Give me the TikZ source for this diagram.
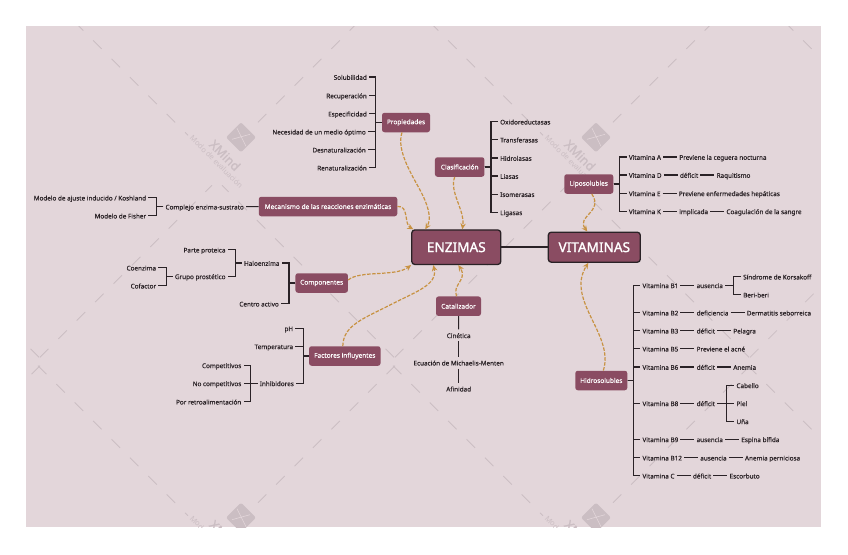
\documentclass[tikz,border=0pt]{standalone}
\usepackage{fontspec}
\setmainfont{Noto Sans}
\newfontfamily\leaffont{Noto Sans}[FakeBold=0.35]
\newfontfamily\hubfont{Noto Sans}[FakeBold=1.3]
\usetikzlibrary{arrows.meta,positioning}
\definecolor{mapBack}{RGB}{227, 214, 218}
\definecolor{mapRose}{RGB}{138, 76, 98}
\definecolor{mapInk}{RGB}{42, 34, 38}
\definecolor{mapGold}{RGB}{200, 146, 66}
\definecolor{mapMark}{RGB}{203, 190, 195}

\begin{document}
\begin{tikzpicture}[
  x=1pt,y=-1pt,
  hub/.style={
    draw=mapInk,
    line width=1.3pt,
    fill=mapRose,
    text=white,
    rounded corners=3pt,
    font=\fontsize{13.6}{16}\hubfont
  },
  topic/.style={
    fill=mapRose,
    text=white,
    rounded corners=2.5pt,
    minimum height=19.5pt,
    inner sep=0pt,
    font=\fontsize{6.5}{7}\leaffont
  },
  leaf/.style={
    text=mapInk,
    inner xsep=2pt,
    inner ysep=2.5pt,
    text height=6pt,
    text depth=.5pt,
    font=\fontsize{6.35}{7}\leaffont
  },
  branch/.style={line width=1.1pt,mapInk},
  relation/.style={-{Stealth[length=6pt,width=5.5pt]},line width=1.2pt,mapGold,dash pattern=on 3.5pt off 1.5pt},
  node distance=14pt
]
  \useasboundingbox (0,0) rectangle (848,554);
  \fill[mapBack] (26,26) rectangle (821,527.3);

  \begin{scope}
    \clip (26,26) rectangle (821,527.3);
    \foreach \k in {-1,0,1,2} \foreach \r in {0,1} {
      \begin{scope}[shift={(241+355*\k,137.3+380.4*\r)}]
        \draw[mapMark,line width=.8pt,dash pattern=on 12pt off 14pt]
          (-203,-152) -- (-53,-2)
          (154,-152) -- (17,-15)
          (-201,220) -- (-29,48)
          (153,220) -- (-19,48);
      \end{scope}
    }
    \foreach \k in {0,1} \foreach \r in {0,1} {
      \begin{scope}[shift={(241+355*\k,137.3+380.4*\r)}]
        \fill[mapMark,rotate=45,rounded corners=2pt] (-10.6,-10.6) rectangle (10.6,10.6);
        \draw[mapBack,line width=.6pt] (-9,2) -- (9,-3) (-4,-9) -- (5,9);
        \node[rotate=-45,text=mapMark,font=\fontsize{12.5}{14}\hubfont] (xmind\k\r) at (-16,18) {XMind};
        \node[rotate=-45,text=mapMark,font=\fontsize{7.5}{8}\selectfont] (modo\k\r) at (-24.5,24.5) {Modo de evaluación};
      \end{scope}
    }
  \end{scope}

  \node[hub,minimum width=89pt,minimum height=34.5pt] (enz) at (456.3,247.2) {ENZIMAS};
  \node[hub,minimum width=92pt,minimum height=30pt] (vit) at (594.3,247.2) {VITAMINAS};
  \draw[line width=1.5pt,mapInk] (enz) -- (vit);

  \node[topic,minimum width=48pt] (prop) at (406,122.5) {Propiedades};
  \node[topic,minimum width=49.5pt] (cla) at (459.7,167) {Clasificación};
  \node[topic,minimum width=138.5pt] (mec) at (328,206.5) {Mecanismo de las reacciones enzimáticas};
  \node[topic,minimum width=52.5pt] (com) at (321.7,283) {Componentes};
  \node[topic,minimum width=71.5pt] (fac) at (344.8,356) {Factores influyentes};
  \node[topic,minimum width=45pt] (cat) at (458.5,306.2) {Catalizador};
  \node[topic,minimum width=49pt] (lip) at (588.8,184) {Liposolubles};
  \node[topic,minimum width=52pt] (hid) at (601.3,380.5) {Hidrosolubles};

  \node[leaf,anchor=east] (sol) at (369,77) {Solubilidad};
  \node[leaf,anchor=east] (rec) at (369,95.5) {Recuperación};
  \node[leaf,anchor=east] (esp) at (369,113.7) {Especificidad};
  \node[leaf,anchor=east] (nec) at (368,131.7) {Necesidad de un medio óptimo};
  \node[leaf,anchor=east] (des) at (368,149.7) {Desnaturalización};
  \node[leaf,anchor=east] (ren) at (369,167.7) {Renaturalización};
  \foreach \kid in {sol,rec,esp,nec,des,ren}
    \draw[branch] (prop.west) -- ++(-6,0) |- (\kid.east);

  \node[leaf,anchor=west] (oxi) at (498,121.7) {Oxidoreductasas};
  \node[leaf,anchor=west] (tra) at (498,139.7) {Transferasas};
  \node[leaf,anchor=west] (hil) at (498,158) {Hidrolasas};
  \node[leaf,anchor=west] (lia) at (498,176) {Liasas};
  \node[leaf,anchor=west] (iso) at (498,194.2) {Isomerasas};
  \node[leaf,anchor=west] (lig) at (498,212.3) {Ligasas};
  \foreach \kid in {oxi,tra,hil,lia,iso,lig}
    \draw[branch] (cla.east) -- ++(6.3,0) |- (\kid.west);

  \node[leaf,anchor=east] (cpl) at (246,206.7) {Complejo enzima-sustrato};
  \node[leaf,anchor=east] (aju) at (148.3,197.7) {Modelo de ajuste inducido / Koshland};
  \node[leaf,anchor=east] (fis) at (148.3,215.7) {Modelo de Fisher};
  \draw[branch] (mec) -- (cpl);
  \foreach \kid in {aju,fis}
    \draw[branch] (cpl.west) -- ++(-7,0) |- (\kid.east);

  \node[leaf,anchor=east] (hal) at (281.7,263) {Haloenzima};
  \node[leaf,anchor=east] (cen) at (281,303.7) {Centro activo};
  \node[leaf,anchor=east] (par) at (227.7,249.7) {Parte proteica};
  \node[leaf,anchor=east] (gru) at (227.7,276.3) {Grupo prostético};
  \node[leaf,anchor=east] (coe) at (158.3,267.7) {Coenzima};
  \node[leaf,anchor=east] (cof) at (158.3,285.7) {Cofactor};
  \foreach \kid in {hal,cen}
    \draw[branch] (com.west) -- ++(-6.3,0) |- (\kid.east);
  \foreach \kid in {par,gru}
    \draw[branch] (hal.west) -- ++(-6.7,0) |- (\kid.east);
  \foreach \kid in {coe,cof}
    \draw[branch] (gru.west) -- ++(-6.4,0) |- (\kid.east);

  \node[leaf,anchor=east] (phv) at (295.3,328.3) {pH};
  \node[leaf,anchor=east] (tem) at (295.3,346.3) {Temperatura};
  \node[leaf,anchor=east] (inh) at (296,383.3) {Inhibidores};
  \node[leaf,anchor=east] (cpt) at (243.5,365.3) {Competitivos};
  \node[leaf,anchor=east] (noc) at (243.5,383.3) {No competitivos};
  \node[leaf,anchor=east] (por) at (243.5,401.7) {Por retroalimentación};
  \foreach \kid in {phv,tem,inh}
    \draw[branch] (fac.west) -- ++(-5.7,0) |- (\kid.east);
  \foreach \kid in {cpt,noc,por}
    \draw[branch] (inh.west) -- ++(-6.7,0) |- (\kid.east);

  \node[leaf] (cin) at (458.7,335.3) {Cinética};
  \node[leaf] (ecu) at (458.7,362.7) {Ecuación de Michaelis-Menten};
  \node[leaf] (afi) at (458.7,388.7) {Afinidad};
  \draw[branch] (cat) -- (cin);
  \draw[branch] (cin) -- (ecu);
  \draw[branch] (ecu) -- (afi);

  \node[leaf,anchor=west] (va) at (626.7,157) {Vitamina A};
  \node[leaf,anchor=west] (vd) at (626.7,175) {Vitamina D};
  \node[leaf,anchor=west] (ve) at (626.7,193.3) {Vitamina E};
  \node[leaf,anchor=west] (vk) at (626.7,211.3) {Vitamina K};
  \foreach \kid in {va,vd,ve,vk}
    \draw[branch] (lip.east) -- ++(6.4,0) |- (\kid.west);
  \node[leaf,right=of va] (vaa) {Previene la ceguera nocturna};
  \node[leaf,right=of vd] (vdd) {déficit};
  \node[leaf,right=of vdd] (vdr) {Raquitismo};
  \node[leaf,right=of ve] (vee) {Previene enfermedades hepáticas};
  \node[leaf,right=of vk] (vki) {implicada};
  \node[leaf,right=of vki] (vkc) {Coagulación de la sangre};
  \draw[branch] (va) -- (vaa);
  \draw[branch] (vd) -- (vdd);
  \draw[branch] (vdd) -- (vdr);
  \draw[branch] (ve) -- (vee);
  \draw[branch] (vk) -- (vki);
  \draw[branch] (vki) -- (vkc);

  \node[leaf,anchor=west] (bu) at (640.3,285.3) {Vitamina B1};
  \node[leaf,anchor=west] (bd) at (640.3,312.7) {Vitamina B2};
  \node[leaf,anchor=west] (bt) at (640.3,330.7) {Vitamina B3};
  \node[leaf,anchor=west] (bc) at (640.3,348.7) {Vitamina B5};
  \node[leaf,anchor=west] (bs) at (640.3,367) {Vitamina B6};
  \node[leaf,anchor=west] (bo) at (640.3,403.3) {Vitamina B8};
  \node[leaf,anchor=west] (bn) at (640.3,439.3) {Vitamina B9};
  \node[leaf,anchor=west] (bz) at (640.3,457.7) {Vitamina B12};
  \node[leaf,anchor=west] (vc) at (640.3,475.7) {Vitamina C};
  \foreach \kid in {bu,bd,bt,bc,bs,bo,bn,bz,vc}
    \draw[branch] (hid.east) -- ++(6,0) |- (\kid.west);

  \node[leaf,right=of bu] (bua) {ausencia};
  \node[leaf,anchor=west] (bus) at (741,276.7) {Síndrome de Korsakoff};
  \node[leaf,anchor=west] (bub) at (741,294.7) {Beri-beri};
  \draw[branch] (bu) -- (bua);
  \foreach \kid in {bus,bub}
    \draw[branch] (bua.east) -- ++(8,0) |- (\kid.west);
  \node[leaf,right=of bd] (bdd) {deficiencia};
  \node[leaf,right=of bdd] (bdm) {Dermatitis seborreica};
  \draw[branch] (bd) -- (bdd);
  \draw[branch] (bdd) -- (bdm);
  \node[leaf,right=of bt] (btd) {déficit};
  \node[leaf,right=of btd] (btp) {Pelagra};
  \draw[branch] (bt) -- (btd);
  \draw[branch] (btd) -- (btp);
  \node[leaf,right=of bc] (bcp) {Previene el acné};
  \draw[branch] (bc) -- (bcp);
  \node[leaf,right=of bs] (bsd) {déficit};
  \node[leaf,right=of bsd] (bsa) {Anemia};
  \draw[branch] (bs) -- (bsd);
  \draw[branch] (bsd) -- (bsa);
  \node[leaf,right=of bo] (bod) {déficit};
  \node[leaf,anchor=west] (boc) at (734.3,385.3) {Cabello};
  \node[leaf,anchor=west] (bop) at (734.3,403.3) {Piel};
  \node[leaf,anchor=west] (bou) at (734.3,421.3) {Uña};
  \draw[branch] (bo) -- (bod);
  \foreach \kid in {boc,bop,bou}
    \draw[branch] (bod.east) -- ++(9.3,0) |- (\kid.west);
  \node[leaf,right=of bn] (bna) {ausencia};
  \node[leaf,right=of bna] (bne) {Espina bífida};
  \draw[branch] (bn) -- (bna);
  \draw[branch] (bna) -- (bne);
  \node[leaf,right=of bz] (bza) {ausencia};
  \node[leaf,right=of bza] (bzp) {Anemia perniciosa};
  \draw[branch] (bz) -- (bza);
  \draw[branch] (bza) -- (bzp);
  \node[leaf,right=of vc] (vcd) {déficit};
  \node[leaf,right=of vcd] (vce) {Escorbuto};
  \draw[branch] (vc) -- (vcd);
  \draw[branch] (vcd) -- (vce);

  \draw[relation] ([xshift=-4pt]prop.south) .. controls (396,150) and (412,175) .. (420,190)
    .. controls (428,205) and (432,218) .. ([xshift=-31pt]enz.north);
  \draw[relation] ([xshift=-5pt]cla.south) .. controls (449,192) and (465,210) .. ([xshift=6pt]enz.north);
  \draw[relation] (mec.east) .. controls (409,205) and (404,224) .. ([xshift=-43pt]enz.north);
  \draw[relation] ([yshift=3pt]com.east) .. controls (360,270) and (395,277) .. (enz.south west);
  \draw[relation] ([xshift=-2pt]fac.north) .. controls (343,325) and (365,318) .. (390,305)
    .. controls (415,292) and (438,285) .. ([xshift=-23pt]enz.south);
  \draw[relation] ([xshift=-2pt]cat.north) .. controls (452,284) and (468,280) .. ([xshift=2pt]enz.south);
  \draw[relation] ([xshift=3pt]lip.south) .. controls (604,212) and (576,216) .. ([xshift=-7pt]vit.north);
  \draw[relation] ([xshift=2pt]hid.north) .. controls (615,335) and (565,300) .. ([xshift=-6pt]vit.south);
\end{tikzpicture}
\end{document}
